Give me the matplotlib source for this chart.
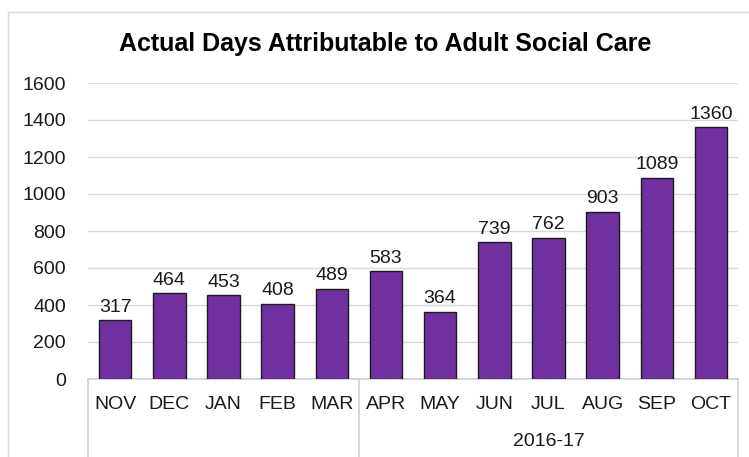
import matplotlib.pyplot as plt
from matplotlib.lines import Line2D

plt.rcParams['font.family'] = ['Liberation Sans', 'DejaVu Sans']

months = ['NOV', 'DEC', 'JAN', 'FEB', 'MAR', 'APR', 'MAY', 'JUN', 'JUL', 'AUG', 'SEP', 'OCT']
days = [317, 464, 453, 408, 489, 583, 364, 739, 762, 903, 1089, 1360]
year_label = '2016-17'
yticks = [0, 200, 400, 600, 800, 1000, 1200, 1400, 1600]

W, H = 749, 457
fig = plt.figure(figsize=(W / 100, H / 100), dpi=100)

# plot area in pixel terms
left, right, bottom, top = 88, 738, 379, 83
ax = fig.add_axes([left / W, 1 - bottom / H, (right - left) / W, (bottom - top) / H])

x = list(range(len(months)))
bars = ax.bar(x, days, width=0.6, color='#7030A0', edgecolor='#1a1a1a', linewidth=1, zorder=3)
for xi, v in zip(x, days):
    ax.text(xi, v + 25, str(v), ha='center', va='bottom', fontsize=14, color='#1a1a1a')

ax.set_xlim(-0.5, len(months) - 0.5)
ax.set_ylim(0, 1600)
ax.set_yticks(yticks)
ax.set_yticklabels([str(t) for t in yticks], fontsize=14, color='#1a1a1a')
ax.yaxis.grid(True, color='#d9d9d9', linewidth=1, zorder=0)
ax.tick_params(axis='y', length=0, pad=16)
ax.set_xticks(x)
ax.set_xticklabels(months, fontsize=14, color='#1a1a1a')
ax.tick_params(axis='x', length=0, pad=12)
for s in ax.spines.values():
    s.set_visible(False)

# category box under the bars
ytr = ax.get_xaxis_transform()
line_kw = dict(color='#d0d0d0', linewidth=1.2, clip_on=False)
ax.plot([-0.5, len(months) - 0.5], [0, 0], transform=ytr, **line_kw)
bottom_axes = -(H - bottom) / (bottom - top)
for xv in [-0.5, 4.5, len(months) - 0.5]:
    ax.plot([xv, xv], [0, bottom_axes], transform=ytr, **line_kw)
ax.text(8, -(442 - bottom) / (bottom - top), year_label, transform=ytr,
        ha='center', va='center', fontsize=14, color='#1a1a1a')

fig.text(385 / W, 1 - 44 / H, 'Actual Days Attributable to Adult Social Care',
         ha='center', va='center', fontsize=18, fontweight='bold', color='#000000')

# outer chart border
fig.add_artist(Line2D([8 / W, 1], [1 - 12 / H, 1 - 12 / H], color='#d9d9d9', linewidth=1))
fig.add_artist(Line2D([8 / W, 8 / W], [0, 1 - 12 / H], color='#d9d9d9', linewidth=1))

fig.savefig('out.png', dpi=100)
